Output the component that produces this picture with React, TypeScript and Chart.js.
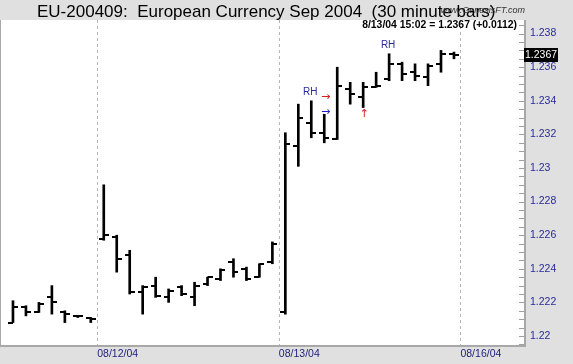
import React, { useEffect, useRef } from 'react';
import { Chart, registerables } from 'chart.js';
Chart.register(...registerables);

// ---- data ----
const dayLabels = ['08/12/04', '08/13/04', '08/16/04'];
const dayBoundaries = [6.5, 20.5, 34.5];
const opens = [1.2208, 1.2217, 1.2214, 1.2223, 1.2214, 1.2212, 1.2211,
  1.2258, 1.2259, 1.2248, 1.2226, 1.2230, 1.2223, 1.2229, 1.2223, 1.2231, 1.2234, 1.2244, 1.2240, 1.2235, 1.2244,
  1.2214, 1.2313, 1.2327, 1.2321, 1.2317, 1.2347, 1.2342, 1.2348, 1.2353, 1.2362, 1.2357, 1.2354, 1.2362, 1.2368];
const highs = [1.2221, 1.2218, 1.2220, 1.2230, 1.2215, 1.2212, 1.2211,
  1.2290, 1.2260, 1.2251, 1.2230, 1.2235, 1.2228, 1.2230, 1.2232, 1.2235, 1.2240, 1.2246, 1.2241, 1.2243, 1.2256,
  1.2321, 1.2338, 1.2340, 1.2332, 1.2360, 1.2351, 1.2351, 1.2357, 1.2368, 1.2363, 1.2362, 1.2362, 1.2370, 1.2369];
const lows = [1.2208, 1.2212, 1.2214, 1.2213, 1.2208, 1.2211, 1.2208,
  1.2257, 1.2238, 1.2225, 1.2213, 1.2223, 1.2220, 1.2224, 1.2218, 1.2230, 1.2233, 1.2235, 1.2233, 1.2235, 1.2243,
  1.2213, 1.2301, 1.2318, 1.2315, 1.2317, 1.2338, 1.2336, 1.2348, 1.2352, 1.2352, 1.2352, 1.2349, 1.2357, 1.2365];
const closes = [1.2217, 1.2214, 1.2219, 1.2220, 1.2213, 1.2212, 1.2210,
  1.2260, 1.2246, 1.2226, 1.2229, 1.2224, 1.2227, 1.2225, 1.2230, 1.2235, 1.2239, 1.2238, 1.2234, 1.2243, 1.2255,
  1.2314, 1.2330, 1.2321, 1.2318, 1.2349, 1.2344, 1.2348, 1.2349, 1.2362, 1.2356, 1.2355, 1.2361, 1.2368, 1.2367];
const yTickValues = [1.22, 1.222, 1.224, 1.226, 1.228, 1.23, 1.232, 1.234, 1.236, 1.238];
const rhBars = [23, 29];
const redRightArrows = [{ x: 24.1, y: 1.2342 }];
const blueRightArrows = [{ x: 24.1, y: 1.2333 }];
const redUpArrows = [{ x: 27.1, y: 1.2332 }];
const titleText = 'EU-200409:  European Currency Sep 2004  (30 minute bars)';
const infoText = '8/13/04 15:02 = 1.2367 (+0.0112)';
const watermarkText = 'www.GenesisFT.com';

const X_MIN = -1;
const X_MAX = 39.4;
const Y_MIN = 1.219464;
const Y_MAX = 1.23881;
const MINOR_STEP = 0.0005;

const NAVY = '#1c1c7c';
const FONT = 'Arial, "Liberation Sans", sans-serif';

function tickImage(side: 'left' | 'right') {
  const c = document.createElement('canvas');
  c.width = 10;
  c.height = 2;
  const g = c.getContext('2d')!;
  g.fillStyle = '#000';
  if (side === 'left') g.fillRect(0, 0, 5, 2);
  else g.fillRect(5, 0, 5, 2);
  return c;
}

const decor = {
  id: 'decor',
  beforeDraw(chart: any) {
    const { ctx, chartArea: a } = chart;
    ctx.save();
    ctx.fillStyle = '#e0e0e0';
    ctx.fillRect(0, 0, chart.width, chart.height);
    ctx.fillStyle = '#ffffff';
    ctx.fillRect(a.left, a.top, a.right - a.left, a.bottom - a.top);
    const xs = chart.scales.x;
    const ys = chart.scales.y;
    ctx.strokeStyle = '#b4b4b4';
    ctx.lineWidth = 1;
    ctx.setLineDash([3, 3]);
    dayBoundaries.forEach((v) => {
      const px = Math.round(xs.getPixelForValue(v)) + 0.5;
      ctx.beginPath();
      ctx.moveTo(px, a.top);
      ctx.lineTo(px, a.bottom);
      ctx.stroke();
    });
    ctx.setLineDash([]);
    // minor / major ticks inside right edge
    ctx.strokeStyle = '#a0a0a0';
    for (let v = 1.2195; v <= Y_MAX + 1e-9; v += MINOR_STEP) {
      const py = Math.round(ys.getPixelForValue(v)) + 0.5;
      ctx.beginPath();
      ctx.moveTo(a.right - 5, py);
      ctx.lineTo(a.right, py);
      ctx.stroke();
    }
    // borders
    ctx.fillStyle = '#a8a8a8';
    ctx.fillRect(a.right, a.top, 2, a.bottom - a.top + 2);
    ctx.fillRect(a.left, a.bottom, a.right - a.left + 2, 2);
    ctx.fillRect(a.left, a.top, 1, a.bottom - a.top);
    ctx.restore();
  },
  afterDraw(chart: any) {
    const { ctx, chartArea: a } = chart;
    const xs = chart.scales.x;
    const ys = chart.scales.y;
    ctx.save();
    // title
    ctx.fillStyle = '#000';
    ctx.font = `17px ${FONT}`;
    ctx.textAlign = 'left';
    ctx.textBaseline = 'alphabetic';
    ctx.fillText(titleText, 37, 17);
    // watermark
    ctx.font = `italic 9px ${FONT}`;
    ctx.fillStyle = '#333';
    ctx.textAlign = 'right';
    ctx.fillText(watermarkText, 525, 13);
    // info
    ctx.font = `bold 10.4px ${FONT}`;
    ctx.fillStyle = '#000';
    ctx.textAlign = 'right';
    ctx.fillText(infoText, 517, 28);
    // RH labels
    ctx.font = `10px ${FONT}`;
    ctx.fillStyle = '#2a2aa0';
    ctx.textAlign = 'center';
    ctx.textBaseline = 'bottom';
    rhBars.forEach((i) => {
      ctx.fillText('RH', xs.getPixelForValue(i) - 1, ys.getPixelForValue(highs[i]) - 4);
    });
    // arrows
    ctx.font = `11px "DejaVu Sans", sans-serif`;
    ctx.textBaseline = 'middle';
    ctx.fillStyle = '#d02020';
    redRightArrows.forEach((p) => ctx.fillText('\u2192', xs.getPixelForValue(p.x), ys.getPixelForValue(p.y)));
    redUpArrows.forEach((p) => ctx.fillText('\u2191', xs.getPixelForValue(p.x), ys.getPixelForValue(p.y)));
    ctx.fillStyle = '#2020c0';
    blueRightArrows.forEach((p) => ctx.fillText('\u2192', xs.getPixelForValue(p.x), ys.getPixelForValue(p.y)));
    // last price box
    const last = closes[closes.length - 1];
    const py = ys.getPixelForValue(last);
    ctx.fillStyle = '#000';
    ctx.fillRect(a.right, Math.round(py) - 7, 34, 14);
    ctx.fillStyle = '#fff';
    ctx.font = `10.5px ${FONT}`;
    ctx.textAlign = 'center';
    ctx.textBaseline = 'middle';
    ctx.fillText(last.toFixed(4), a.right + 17, Math.round(py) + 0.5);
    ctx.restore();
  },
};

export default function App() {
  const ref = useRef<HTMLCanvasElement>(null);
  useEffect(() => {
    document.body.style.margin = '0';
    const idx = opens.map((_, i) => i);
    const chart = new Chart(ref.current!, {
      type: 'bar',
      data: {
        datasets: [
          {
            type: 'bar',
            data: idx.map((i) => ({ x: i, y: [lows[i], highs[i]] })) as any,
            backgroundColor: '#000',
            borderWidth: 0,
            barThickness: 2,
          } as any,
          {
            type: 'scatter',
            data: idx.map((i) => ({ x: i, y: opens[i] })),
            pointStyle: tickImage('left') as any,
          } as any,
          {
            type: 'scatter',
            data: idx.map((i) => ({ x: i, y: closes[i] })),
            pointStyle: tickImage('right') as any,
          } as any,
        ],
      },
      options: {
        animation: false,
        responsive: false,
        events: [],
        layout: { autoPadding: false, padding: { top: 20, left: 0, right: 0, bottom: 0 } },
        plugins: { legend: { display: false }, tooltip: { enabled: false }, title: { display: false } },
        scales: {
          x: {
            type: 'linear',
            offset: false,
            bounds: 'ticks',
            min: X_MIN,
            max: X_MAX,
            afterBuildTicks: (s: any) => {
              s.ticks = dayBoundaries.map((v) => ({ value: v }));
            },
            afterFit: (s: any) => {
              s.height = 19;
            },
            ticks: {
              callback: (v: any) => dayLabels[dayBoundaries.indexOf(v)] ?? '',
              align: 'start',
              color: NAVY,
              font: { family: FONT, size: 10.5 },
              padding: 3,
              maxRotation: 0,
              autoSkip: false,
            },
            grid: { display: false, drawTicks: false, offset: false },
            border: { display: false },
          },
          y: {
            position: 'right',
            min: Y_MIN,
            max: Y_MAX,
            afterBuildTicks: (s: any) => {
              s.ticks = yTickValues.map((v) => ({ value: v }));
            },
            afterFit: (s: any) => {
              s.width = 49;
            },
            ticks: {
              callback: (v: any) => String(+Number(v).toFixed(3)),
              color: '#2a2a9a',
              font: { family: FONT, size: 10.5 },
              padding: 6,
            },
            grid: { display: false, drawTicks: false },
            border: { display: false },
          },
        },
      } as any,
      plugins: [decor],
    });
    return () => chart.destroy();
  }, []);
  return <canvas ref={ref} width={573} height={364} style={{ display: 'block' }} />;
}
